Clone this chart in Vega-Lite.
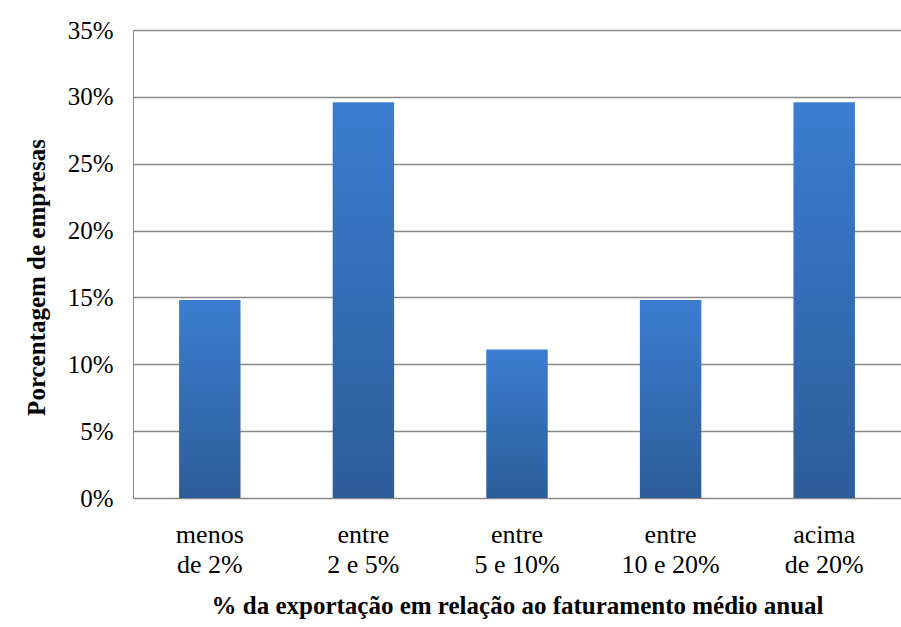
{
  "$schema": "https://vega.github.io/schema/vega-lite/v6.json",
  "autosize": "none",
  "width": 768,
  "height": 468,
  "padding": {"left": 133, "top": 30, "right": 0, "bottom": 129},
  "background": "white",
  "data": {
    "values": [
      {"faixa": "menos|de 2%", "ordem": 1, "pct": 0.148},
      {"faixa": "entre|2 e 5%", "ordem": 2, "pct": 0.296},
      {"faixa": "entre|5 e 10%", "ordem": 3, "pct": 0.111},
      {"faixa": "entre|10 e 20%", "ordem": 4, "pct": 0.148},
      {"faixa": "acima|de 20%", "ordem": 5, "pct": 0.296}
    ]
  },
  "mark": {
    "type": "bar",
    "color": {
      "gradient": "linear",
      "x1": 0, "y1": 0, "x2": 0, "y2": 1,
      "stops": [
        {"offset": 0, "color": "#3B7DD0"},
        {"offset": 1, "color": "#2D5D99"}
      ]
    }
  },
  "encoding": {
    "x": {
      "field": "faixa",
      "type": "nominal",
      "sort": {"field": "ordem"},
      "scale": {"paddingInner": 0.6, "paddingOuter": 0.3},
      "axis": {
        "title": "% da exportação em relação ao faturamento médio anual",
        "labelExpr": "split(datum.label, '|')",
        "labelAngle": 0,
        "labelFontSize": 26,
        "labelLineHeight": 30,
        "labelColor": "black",
        "labelPadding": 23,
        "ticks": false,
        "domainColor": "#888888",
        "titleFontSize": 25,
        "titleFontWeight": "bold",
        "titleColor": "black",
        "titlePadding": 16
      }
    },
    "y": {
      "field": "pct",
      "type": "quantitative",
      "scale": {"domain": [0, 0.35]},
      "axis": {
        "title": "Porcentagem de empresas",
        "format": ".0%",
        "values": [0, 0.05, 0.1, 0.15, 0.2, 0.25, 0.3, 0.35],
        "labelFontSize": 25,
        "labelColor": "black",
        "labelPadding": 20,
        "ticks": false,
        "domainColor": "#888888",
        "gridColor": "#888888",
        "gridWidth": 1.5,
        "titleFontSize": 25,
        "titleFontWeight": "bold",
        "titleColor": "black",
        "titlePadding": 18,
        "titleY": 247
      }
    }
  },
  "config": {"font": "Liberation Serif", "view": {"stroke": null}}
}
